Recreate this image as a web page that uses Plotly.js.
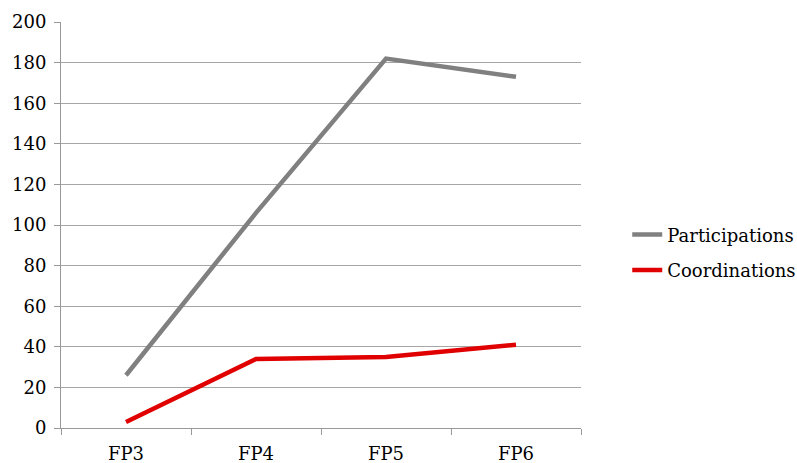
<!DOCTYPE html>
<html>
<head>
<meta charset="utf-8">
<script src="https://cdn.plot.ly/plotly-3.0.1.min.js"></script>
<style>html,body{margin:0;padding:0;background:#fff}#chart{width:797px;height:463px}</style>
</head>
<body>
<div id="chart"></div>
<script>
const categories = ["FP3", "FP4", "FP5", "FP6"];
const participations = [26, 106, 182, 173];
const coordinations = [3, 34, 35, 41];
const seriesNames = ["Participations", "Coordinations"];

const FONT = "DejaVu Serif, Liberation Serif, serif";

const data = [
  {x: categories, y: participations, name: seriesNames[0], type: "scatter", mode: "lines",
   line: {color: "#808080", width: 4.5}, legendgroup: "a"},
  {x: categories, y: coordinations, name: seriesNames[1], type: "scatter", mode: "lines",
   line: {color: "#e00000", width: 4.5}, legendgroup: "b"}
];

const layout = {
  width: 797, height: 463,
  margin: {l: 61, r: 216, t: 22, b: 35},
  paper_bgcolor: "#fff", plot_bgcolor: "#fff",
  font: {family: FONT, size: 18, color: "#000"},
  showlegend: true,
  legend: {xref: "container", x: 0.787, xanchor: "left", yref: "container", y: 0.455, yanchor: "middle",
           tracegroupgap: 9, font: {family: FONT, size: 18, color: "#000"}, bgcolor: "rgba(0,0,0,0)"},
  xaxis: {type: "category", range: [-0.5, 3.5], tickson: "boundaries", ticks: "outside", ticklen: 6,
          tickcolor: "#999", showline: true, linecolor: "#999", linewidth: 1, showgrid: false,
          zeroline: false, fixedrange: true, ticklabelstandoff: 9, automargin: false},
  yaxis: {range: [0, 200], dtick: 20, tick0: 0, ticks: "outside", ticklen: 6, tickcolor: "#999",
          showline: true, linecolor: "#999", linewidth: 1, showgrid: true, gridcolor: "#a6a6a6",
          gridwidth: 1, zeroline: false, fixedrange: true, ticklabelstandoff: 4, automargin: false}
};

Plotly.newPlot("chart", data, layout, {displayModeBar: false, staticPlot: true});
</script>
</body>
</html>
